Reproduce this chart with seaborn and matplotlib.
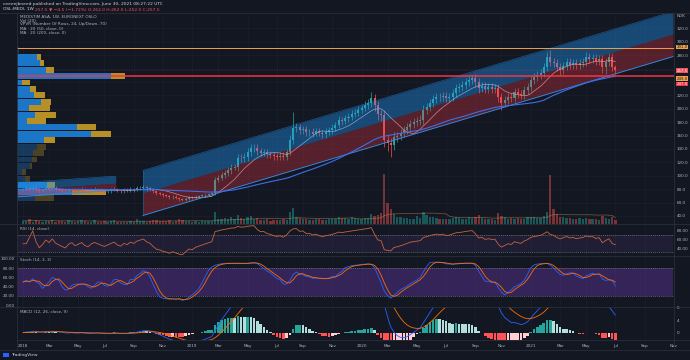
import numpy as np
import pandas as pd
import matplotlib
matplotlib.use("Agg")
import matplotlib.pyplot as plt
from matplotlib.patches import Rectangle
from matplotlib.ticker import MaxNLocator
import seaborn as sns

# weekly candles for OSL:MEDI, first bar = week of 2018-01-01
close_2018 = [79, 81, 80, 82, 80, 78, 79, 81, 80, 82, 80, 79, 78, 77, 79, 80, 78,
              79, 80, 78, 77, 79, 80, 79, 78, 77, 78, 79, 80, 78, 77, 79, 78, 80, 79,
              81, 82, 83, 81, 80, 77, 74, 73, 71, 70, 68, 69, 67, 65, 64, 66, 68, 67]
close_2019 = [69, 70, 71, 72, 73, 74, 94, 97, 101, 104, 108, 112, 113,
              127, 126, 128, 136, 141, 142, 137, 134, 135, 132, 131, 129, 128, 130, 128, 135, 153,
              171, 173, 168, 170, 165, 166, 163, 167, 164, 162, 166, 168,
              172, 176, 183, 182, 186, 188, 192, 194, 198, 201]
close_2020 = [205, 208, 216, 205, 192, 190, 153, 149, 146, 158, 160, 164,
              168, 173, 178, 180, 182, 184, 198, 203, 208, 214, 218, 217, 219, 216, 218, 224, 231, 233, 236,
              240, 243, 246, 240, 231, 234, 229, 232, 230, 231,
              218, 208, 213, 218, 216, 225, 222, 220, 228, 233, 243]
close_2021 = [247, 250, 253, 262, 277, 270, 268, 262, 258, 264, 270, 266, 268, 265,
              268, 270, 277, 275, 276, 272, 275, 262, 270, 277, 262, 257.5]

wick_up_2018 = [2, 3, 2, 2, 3, 2, 2, 3, 2, 3, 2, 2, 2, 2, 3, 2, 2, 2, 3, 2, 2, 2, 3, 2, 2, 2,
                2, 2, 3, 2, 2, 2, 2, 3, 2, 3, 2, 3, 2, 2, 2, 2, 2, 2, 2, 2, 2, 2, 2, 2, 3, 2, 2]
wick_lo_2018 = [2, 2, 3, 2, 2, 3, 2, 2, 2, 2, 3, 2, 2, 3, 2, 2, 3, 2, 2, 2, 3, 2, 2, 2, 3, 2,
                2, 3, 2, 2, 3, 2, 2, 2, 3, 2, 2, 2, 3, 2, 3, 2, 2, 3, 2, 2, 3, 2, 3, 2, 2, 2, 2]
wick_up_2019 = [2, 2, 2, 2, 2, 2, 4, 4, 4, 4, 5, 5, 5, 6, 5, 6, 6, 6, 6, 5, 5, 5, 5, 5, 4, 5,
                5, 5, 5, 8, 24, 6, 5, 5, 5, 4, 5, 4, 4, 5, 5, 5, 5, 5, 6, 5, 5, 5, 6, 5, 6, 5]
wick_lo_2019 = [2, 2, 2, 2, 2, 2, 3, 3, 4, 4, 4, 5, 4, 6, 6, 5, 6, 6, 6, 6, 5, 5, 5, 5, 5, 5,
                4, 5, 5, 4, 6, 6, 6, 5, 5, 5, 5, 4, 5, 5, 5, 5, 5, 5, 5, 6, 5, 5, 5, 5, 5, 5]
wick_up_2020 = [6, 6, 9, 6, 6, 6, 8, 8, 7, 7, 6, 6, 6, 6, 6, 6, 6, 6, 7, 6, 6, 6, 6, 6, 6, 6,
                6, 6, 6, 6, 6, 6, 6, 4, 6, 6, 6, 6, 6, 6, 6, 6, 6, 6, 6, 6, 6, 6, 6, 6, 6, 6]
wick_lo_2020 = [5, 5, 6, 8, 8, 8, 10, 12, 18, 8, 7, 6, 6, 6, 6, 6, 6, 6, 6, 6, 6, 6, 6, 6, 6, 6,
                6, 6, 6, 6, 6, 6, 6, 6, 8, 8, 6, 6, 6, 6, 6, 8, 10, 6, 6, 6, 6, 6, 6, 6, 6, 6]
wick_up_2021 = [6, 6, 6, 6, 8, 11, 6, 6, 6, 6, 6, 6, 6, 6, 6, 6, 8, 6, 6, 6, 6, 6, 6, 6, 6, 4]
wick_lo_2021 = [6, 6, 6, 6, 6, 6, 6, 6, 8, 6, 6, 6, 6, 6, 6, 6, 6, 6, 6, 6, 6, 8, 10, 6, 6, 5]

volume_2018 = [40, 35, 55, 30, 45, 38, 30, 42, 36, 50, 28, 34, 40, 30, 45, 33, 29, 36, 52, 31,
               27, 30, 44, 26, 30, 35, 28, 33, 48, 30, 25, 27, 24, 31, 29, 62, 40, 35, 30, 33,
               45, 50, 38, 42, 36, 48, 30, 40, 55, 46, 35, 38, 30]
volume_2019 = [32, 30, 35, 38, 40, 36, 150, 60, 55, 70, 65, 80, 60, 110, 70, 60, 85, 95, 60, 75,
               50, 45, 55, 40, 48, 52, 45, 60, 50, 140, 200, 90, 70, 60, 55, 50, 45, 60, 55, 48,
               52, 58, 60, 65, 80, 70, 75, 60, 85, 70, 65, 55]
volume_2020 = [70, 75, 120, 95, 110, 130, 610, 260, 180, 120, 90, 80, 75, 70, 65, 60, 95, 70,
               140, 110, 90, 80, 70, 60, 65, 55, 60, 75, 90, 70, 60, 65, 80, 75, 90, 110, 70, 60,
               55, 65, 50, 130, 100, 80, 60, 70, 60, 75, 65, 60, 80, 90]
volume_2021 = [85, 70, 75, 95, 150, 590, 180, 120, 90, 80, 70, 75, 60, 65, 70, 60, 75, 65, 55,
               60, 50, 95, 70, 60, 80, 45]

# visible range volume profile, 24 rows, listed from the top row down
vp_up = [2, 20, 23, 29, 94, 5, 13, 17, 24, 12, 18, 10, 60, 74, 27, 20, 16, 15, 13, 5, 8, 30, 55, 18]
vp_down = [0, 4, 4, 8, 14, 8, 6, 11, 10, 21, 21, 19, 19, 20, 11, 9, 11, 5, 2, 4, 5, 8, 34, 19]
vp_value_area = [0, 1, 1, 1, 1, 1, 1, 1, 1, 1, 1, 1, 1, 1, 1, 0, 0, 0, 0, 0, 0, 1, 1, 0]
vp_low, vp_high = 62.0, 292.0

# drawings: parallel channels (start week, end week, middle at start, middle at end, half width)
channel_2018 = (-1.84, 28.5, 79.0, 89.0, 10.5)
channel_main = (36.8, 199.7, 74.3, 311.6, 33.6)
resistance = 291.0
support = 249.0

BG = "#131722"
TXT = "#b2b5be"
GRID = "#1b1f2b"
SEP = "#2a2e39"
UP = "#26a69a"
DOWN = "#ef5350"

close = pd.Series(close_2018 + close_2019 + close_2020 + close_2021, dtype=float)
wick_up = np.array(wick_up_2018 + wick_up_2019 + wick_up_2020 + wick_up_2021, dtype=float)
wick_lo = np.array(wick_lo_2018 + wick_lo_2019 + wick_lo_2020 + wick_lo_2021, dtype=float)
volume = np.array(volume_2018 + volume_2019 + volume_2020 + volume_2021, dtype=float)
n = len(close)
weeks = np.arange(n)
opens = close.shift(1).fillna(close.iloc[0]).values
c = close.values
high = np.maximum(opens, c) + wick_up
low = np.minimum(opens, c) - wick_lo
rising = c >= opens

# indicators
delta = close.diff().fillna(0)
gain = delta.clip(lower=0).ewm(alpha=1 / 14, adjust=False).mean()
loss = (-delta.clip(upper=0)).ewm(alpha=1 / 14, adjust=False).mean()
rsi = 100 - 100 / (1 + gain / loss.replace(0, np.nan))
rsi = rsi.fillna(50)

hh = pd.Series(high).rolling(14, min_periods=1).max()
ll = pd.Series(low).rolling(14, min_periods=1).min()
stoch_k = (100 * (close - ll) / (hh - ll)).rolling(3, min_periods=1).mean()
stoch_d = stoch_k.rolling(3, min_periods=1).mean()

macd = close.ewm(span=12, adjust=False).mean() - close.ewm(span=26, adjust=False).mean()
signal = macd.ewm(span=9, adjust=False).mean()
hist = (macd - signal).values
prev = np.r_[0, hist[:-1]]
hist_col = np.where(hist >= 0, np.where(hist >= prev, "#26a69a", "#b2dfdb"),
                    np.where(hist < prev, "#ff5252", "#ffcdd2"))

ma_fast = close.rolling(10, min_periods=1).mean()
ma_slow = close.rolling(50, min_periods=1).mean()
vol_ma = pd.Series(volume).rolling(20, min_periods=1).mean()

# month ticks (label sits on the bar holding the 1st of the month)
start = pd.Timestamp("2018-01-01")
tick_dates = pd.date_range("2018-01-01", "2021-11-01", freq="2MS")
tick_pos = [int((d - start).days // 7) for d in tick_dates]
tick_lab = [str(d.year) if d.month == 1 else d.strftime("%b") for d in tick_dates]

sns.set_theme(style="dark", rc={"axes.facecolor": BG, "figure.facecolor": BG,
                                "axes.edgecolor": BG, "text.color": TXT,
                                "xtick.color": TXT, "ytick.color": TXT,
                                "patch.edgecolor": "none", "patch.linewidth": 0})
plt.rcParams["font.family"] = ["DejaVu Sans"]

W, H = 690, 360
FS = 3.0
fig = plt.figure(figsize=(6.9, 3.6), dpi=100)


def rect(x0, y0, x1, y1):
    return [x0 / W, 1 - y1 / H, (x1 - x0) / W, (y1 - y0) / H]


ax_vol = fig.add_axes(rect(17, 13, 674, 224))
ax = fig.add_axes(rect(17, 13, 674, 224), sharex=ax_vol)
ax_rsi = fig.add_axes(rect(17, 224, 674, 256), sharex=ax_vol)
ax_st = fig.add_axes(rect(17, 256, 674, 307), sharex=ax_vol)
ax_macd = fig.add_axes(rect(17, 307, 674, 340), sharex=ax_vol)
ax.patch.set_visible(False)

for a in (ax_vol, ax, ax_rsi, ax_st, ax_macd):
    for s in a.spines.values():
        s.set_visible(False)
    a.tick_params(length=0, labelsize=FS, colors=TXT, pad=2)
    a.tick_params(axis="x", labelbottom=False)
    for p in tick_pos:
        if a is not ax:
            a.axvline(p, color=GRID, lw=0.5, zorder=0)
ax_vol.set_xlim(-1.84, 199.7)

# volume
ax_vol.bar(weeks, volume, width=0.7, color=np.where(rising, UP, DOWN), alpha=0.45, lw=0, zorder=1)
ax_vol.plot(weeks, vol_ma, color="#d9a15c", lw=0.5, alpha=0.5, zorder=2)
ax_vol.set_ylim(0, volume.max() * 4.2)
ax_vol.set_yticks([])

# main pane
ax.set_ylim(28, 343)
price_ticks = np.arange(40, 321, 20)
shown = [v for v in price_ticks if v not in (240, 260)]
ax.set_yticks(shown)
ax.set_yticklabels([f"{v:.1f}" for v in shown])
ax.yaxis.tick_right()
for v in price_ticks:
    ax_vol.axhline((v - 28) / (343 - 28) * ax_vol.get_ylim()[1], color=GRID, lw=0.5, zorder=0)

row_h = (vp_high - vp_low) / len(vp_up)
row_mid = vp_high - row_h * (np.arange(len(vp_up)) + 0.5)
px_week = 1 / 3.26
for y, u, d, va in zip(row_mid, vp_up, vp_down, vp_value_area):
    al = 0.85 if va else 0.3
    ax.barh(y, u * px_week, left=-1.84, height=row_h * 0.92, color="#1e88e5", alpha=al,
            lw=0, zorder=1)
    ax.barh(y, d * px_week, left=-1.84 + u * px_week, height=row_h * 0.92, color="#d4a528",
            alpha=al, lw=0, zorder=1)

cols = np.where(rising, UP, DOWN)
ax.vlines(weeks, low, high, colors=cols, lw=0.5, zorder=2)
body = np.maximum(np.abs(c - opens), 0.6)
ax.bar(weeks, body, bottom=np.minimum(opens, c), width=0.62, color=cols, lw=0, zorder=2)

sns.lineplot(x=weeks, y=ma_fast.values, ax=ax, color="#dcc8cc", lw=0.5, alpha=0.85, zorder=2.5)

for w0, w1, m0, m1, hw in (channel_2018, channel_main):
    xs = np.array([w0, w1])
    mid = np.array([m0, m1])
    ax.fill_between(xs, mid, mid + hw, color="#2196f3", alpha=0.4, lw=0, zorder=3)
    ax.fill_between(xs, mid - hw, mid, color="#f23645", alpha=0.3, lw=0, zorder=3)
    ax.plot(xs, mid - hw, color="#2196f3", lw=0.6, zorder=3.2)
    ax.plot(xs, mid + hw, color="#2196f3", lw=0.4, alpha=0.6, zorder=3.2)
    ax.plot([w0, w0], [m0 - hw, m0 + hw], color="#2196f3", lw=0.4, alpha=0.6, zorder=3.2)

sns.lineplot(x=weeks, y=ma_slow.values, ax=ax, color="#3f6ee8", lw=0.8, zorder=3.5)
ax.axhline(resistance, color="#f0a04b", lw=0.7, zorder=4)
ax.axhline(support, color="#f23645", lw=1.1, zorder=4)
ax.axhline(c[-1], color="#f23645", lw=0.4, ls=(0, (1, 2)), alpha=0.6, zorder=4)

legend = ["MEDISTIM ASA, 1W, EURONEXT OSLO", "Vol (20)", "VPVR (Number Of Rows, 24, Up/Down, 70)",
          "MA \u00b7 20 (50, close, 0)", "MA \u00b7 20 (200, close, 0)"]
for i, t in enumerate(legend):
    fig.text(20 / W, 1 - (16.5 + 4 * i) / H, t, fontsize=FS, color=TXT, va="center")

# RSI
ax_rsi.fill_between([-1.84, 199.7], 30, 70, color="#7e57c2", alpha=0.12, lw=0, zorder=0)
for v in (30, 70):
    ax_rsi.axhline(v, color="#787b86", lw=0.5, ls=(0, (1.5, 1.5)), zorder=1)
sns.lineplot(x=weeks, y=rsi.values, ax=ax_rsi, color="#c8643c", lw=0.6, zorder=2)
ax_rsi.set_ylim(21.4, 96)
ax_rsi.set_yticks([40, 60, 80])
ax_rsi.set_yticklabels(["40.00", "60.00", "80.00"])
ax_rsi.yaxis.tick_right()
fig.text(20 / W, 1 - 229 / H, "RSI (14, close)", fontsize=FS, color=TXT, va="center")

# Stochastic
ax_st.fill_between([-1.84, 199.7], 20, 80, color="#7b3fc4", alpha=0.33, lw=0, zorder=0)
for v in (20, 80):
    ax_st.axhline(v, color="#787b86", lw=0.5, ls=(0, (1.5, 1.5)), zorder=1)
sns.lineplot(x=weeks, y=stoch_k.values, ax=ax_st, color="#2962ff", lw=0.6, zorder=2)
sns.lineplot(x=weeks, y=stoch_d.values, ax=ax_st, color="#ff6d00", lw=0.6, zorder=2)
ax_st.set_ylim(-4.3, 106.5)
ax_st.set_yticks([0, 20, 40, 60, 80, 100])
ax_st.set_yticklabels([f"{v:.2f}" for v in [0, 20, 40, 60, 80, 100]])
ax_st.tick_params(axis="y", pad=1.5)
fig.text(20 / W, 1 - 260 / H, "Stoch (14, 3, 3)", fontsize=FS, color=TXT, va="center")

# MACD, scaled so the tallest positive histogram bar fills about half the pane as in the source
hmax = hist.max()
ax_macd.bar(weeks, hist, width=0.8, color=hist_col, lw=0, zorder=1)
sns.lineplot(x=weeks, y=macd.values, ax=ax_macd, color="#2962ff", lw=0.6, zorder=2)
sns.lineplot(x=weeks, y=signal.values, ax=ax_macd, color="#ff6d00", lw=0.6, zorder=2)
ax_macd.set_ylim(-0.46 * hmax, 1.58 * hmax)
ax_macd.yaxis.set_major_locator(MaxNLocator(3))
ax_macd.yaxis.tick_right()
ax_macd.set_xticks(tick_pos)
ax_macd.set_xticklabels(tick_lab)
ax_macd.tick_params(axis="x", labelbottom=True, pad=3)
fig.text(20 / W, 1 - 312 / H, "MACD (12, 26, close, 9)", fontsize=FS, color=TXT, va="center")

# pane separators and frame
for y in (13, 224, 256, 307, 340, 350):
    fig.add_artist(plt.Line2D([0, 1], [1 - y / H] * 2, color=SEP, lw=0.6))
for x in (17, 674):
    fig.add_artist(plt.Line2D([x / W] * 2, [1 - 350 / H, 1 - 13 / H], color=SEP, lw=0.6))
fig.add_artist(Rectangle((0, 1 - 350 / H), 16.5 / W, 10 / H, transform=fig.transFigure,
                         color=BG, zorder=5))

# price scale labels
fig.text(681 / W, 1 - 16 / H, "NOK", fontsize=FS, color=TXT, ha="center", va="center")
tags = [(47, "291.0", "#f0a04b", "#131722"), (70.5, "257.5", "#f7525f", "white"),
        (78.5, "249.0", "#f0a04b", "#131722"), (84, "247.0", "#f23645", "white")]
for y, t, fc, tc in tags:
    fig.text(682 / W, 1 - y / H, t, fontsize=2.8, color=tc, ha="center", va="center", zorder=6,
             bbox=dict(boxstyle="square,pad=0.12", fc=fc, ec="none"))

# header: author line, then symbol in white followed by the quote in red
fig.text(3 / W, 1 - 3.5 / H, "ceeeejbneed published on TradingView.com, June 30, 2021 08:27:22 UTC",
         fontsize=3.2, color="#d1d4dc", va="center")
sym = fig.text(3 / W, 1 - 9.5 / H, "OSL:MEDI, 1W ", fontsize=3.2, color="#d1d4dc", va="center")
renderer = fig.canvas.get_renderer()
x_next = sym.get_window_extent(renderer).x1 / W
fig.text(x_next, 1 - 9.5 / H, "257.5 \u25bc \u22124.5 (\u22121.72%) O:262.0 H:262.0 L:252.0 C:257.5",
         fontsize=3.2, color="#f7525f", va="center")
fig.text(11 / W, 1 - 355 / H, "TradingView", fontsize=3.2, color="#d1d4dc", va="center")
fig.add_artist(Rectangle((3 / W, 1 - 357 / H), 6 / W, 4 / H, transform=fig.transFigure,
                         color="#2962ff", zorder=5))

fig.savefig("out.png", dpi=100, facecolor=BG)
